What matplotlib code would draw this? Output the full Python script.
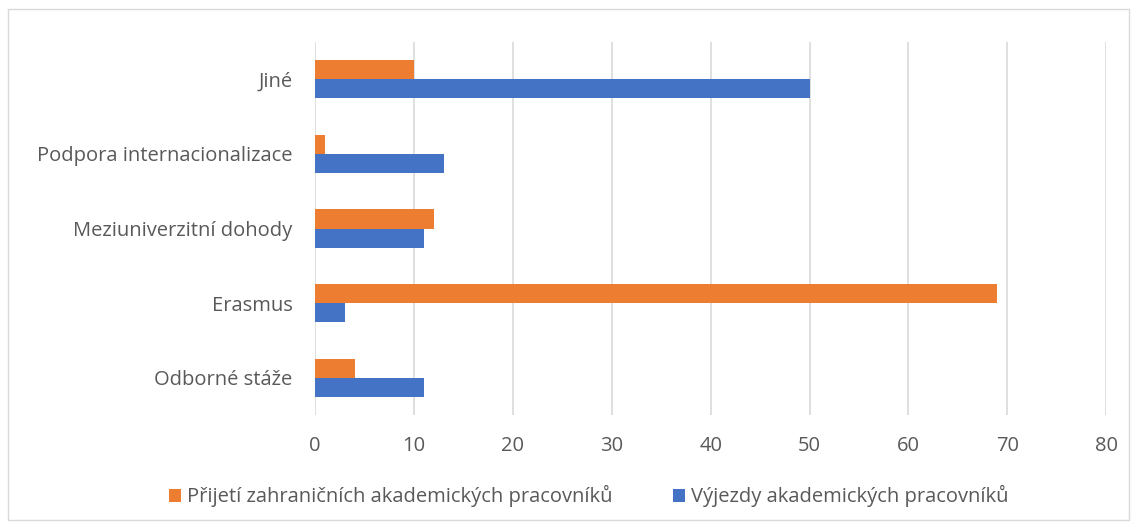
import numpy as np
import matplotlib.pyplot as plt
from matplotlib.patches import Rectangle

# data (bottom to top as in the picture)
kategorie = ['Odborné stáže', 'Erasmus', 'Meziuniverzitní dohody',
             'Podpora internacionalizace', 'Jiné']
prijeti = [4, 69, 12, 1, 10]
vyjezdy = [11, 3, 11, 13, 50]
serie = ['Přijetí zahraničních akademických pracovníků',
         'Výjezdy akademických pracovníků']
xticks = [0, 10, 20, 30, 40, 50, 60, 70, 80]

plt.rcParams['font.family'] = ['Open Sans', 'DejaVu Sans']

fig = plt.figure(figsize=(11.37, 5.29), dpi=100)
ax = fig.add_axes([0.277, 0.215, 0.696, 0.706])

y = np.arange(len(kategorie))
h = 0.255
ax.barh(y + h/2, prijeti, height=h, color='#ed7d31', label=serie[0], zorder=3)
ax.barh(y - h/2, vyjezdy, height=h, color='#4472c4', label=serie[1], zorder=3)

ax.set_xlim(0, 80)
ax.set_ylim(-0.5, len(kategorie) - 0.5)
ax.set_xticks(xticks)
ax.set_yticks(y)
ax.set_yticklabels(kategorie)
ax.grid(axis='x', color='#d9d9d9', linewidth=1.2, zorder=0)
for s in ax.spines.values():
    s.set_visible(False)
ax.tick_params(axis='both', length=0, labelsize=14.5, colors='#595959')
ax.tick_params(axis='y', pad=16)
ax.tick_params(axis='x', pad=15)

leg = fig.legend(loc='center', bbox_to_anchor=(0.518, 0.062), ncol=2, frameon=False,
                 fontsize=14.5, handlelength=0.6, handleheight=0.6, handletextpad=0.3,
                 columnspacing=3.0, labelcolor='#595959')

fig.patches.append(Rectangle((0.007, 0.017), 0.986, 0.966, transform=fig.transFigure,
                             fill=False, edgecolor='#d9d9d9', linewidth=1))

fig.savefig('out.png', dpi=100)
